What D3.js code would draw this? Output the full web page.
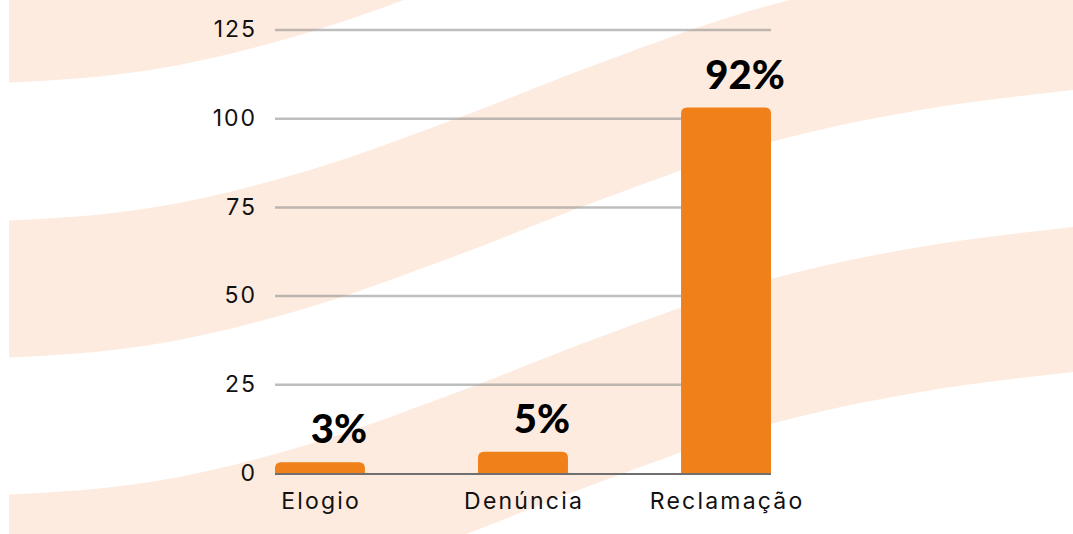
<!DOCTYPE html>
<html>
<head>
<meta charset="utf-8">
<script src="https://cdn.jsdelivr.net/npm/d3@7"></script>
<style>
  html, body { margin: 0; padding: 0; background: #ffffff; }
  svg { display: block; }
</style>
</head>
<body>
<svg id="chart" width="1073" height="534"></svg>
<script>
// ---- data ----
const categories = ["Elogio", "Denúncia", "Reclamação"];
const values = [3, 6, 103];
const percentLabels = ["3%", "5%", "92%"];
const yTicks = [0, 25, 50, 75, 100, 125];

// ---- decorative wave background (shape of one edge, band offsets) ----
const waveEdge = [[0, 358], [150, 345], [300, 310], [450, 258], [600, 200], [767, 143], [920, 110], [1073, 90]];
const bandOffsets = [[-412, -275], [-137, 0], [137, 282]];

const W = 1073, H = 534;
const margin = { left: 275, right: 1073 - 771, top: 29.5, bottom: 534 - 473 };

const svg = d3.select("#chart");

// background
svg.append("defs").append("clipPath").attr("id", "bgclip")
  .append("rect").attr("x", 9).attr("y", 0).attr("width", W - 9).attr("height", H);

const bg = svg.append("g").attr("clip-path", "url(#bgclip)");
bandOffsets.forEach(([a, b]) => {
  const area = d3.area()
    .x(d => d[0])
    .y0(d => d[1] + a)
    .y1(d => d[1] + b)
    .curve(d3.curveMonotoneX);
  bg.append("path").attr("d", area(waveEdge)).attr("fill", "#FDEBDF");
});

// scales
const x = d3.scaleBand()
  .domain(categories)
  .range([margin.left, W - margin.right])
  .paddingInner(0.557)
  .paddingOuter(0);

const y = d3.scaleLinear()
  .domain([0, 125])
  .range([H - margin.bottom, margin.top]);

const plotW = (W - margin.right) - margin.left;

// gridlines + tick labels
const yAxis = d3.axisLeft(y)
  .tickValues(yTicks)
  .tickSize(-plotW)
  .tickPadding(20)
  .tickFormat(d3.format("d"));

const gAxis = svg.append("g")
  .attr("transform", `translate(${margin.left},0)`)
  .call(yAxis);
gAxis.select(".domain").remove();
gAxis.selectAll(".tick line")
  .attr("stroke", "#888")
  .attr("stroke-opacity", 0.55)
  .attr("stroke-width", 2.5)
  .filter(d => d === 0).remove();
gAxis.selectAll(".tick text")
  .attr("fill", "#111")
  .attr("dx", 2)
  .style("font-family", "Inter, 'Noto Sans', sans-serif")
  .style("font-size", "23px")
  .style("letter-spacing", "2px");

// bars with rounded top corners
const r = 6;
function barPath(x0, w, yTop, yBase) {
  const rr = Math.min(r, (yBase - yTop), w / 2);
  return `M${x0},${yBase}` +
    `V${yTop + rr}` +
    `Q${x0},${yTop} ${x0 + rr},${yTop}` +
    `H${x0 + w - rr}` +
    `Q${x0 + w},${yTop} ${x0 + w},${yTop + rr}` +
    `V${yBase}Z`;
}

svg.append("g").selectAll("path")
  .data(categories)
  .join("path")
  .attr("d", (c, i) => barPath(x(c), x.bandwidth(), y(values[i]), y(0)))
  .attr("fill", "#F08019");

// baseline
svg.append("line")
  .attr("x1", margin.left).attr("x2", W - margin.right)
  .attr("y1", y(0) + 1).attr("y2", y(0) + 1)
  .attr("stroke", "#6f6f6f").attr("stroke-width", 2.2);

// category labels
svg.append("g").selectAll("text")
  .data(categories)
  .join("text")
  .attr("x", c => x(c) + x.bandwidth() / 2 + 1.1)
  .attr("y", 509)
  .attr("text-anchor", "middle")
  .attr("fill", "#111")
  .style("font-family", "Inter, 'Noto Sans', sans-serif")
  .style("font-size", "23px")
  .style("letter-spacing", "2.2px")
  .text(c => c);

// percent labels
svg.append("g").selectAll("text")
  .data(categories)
  .join("text")
  .attr("x", c => x(c) + x.bandwidth() / 2 + 19)
  .attr("y", (c, i) => y(values[i]) - 19)
  .attr("text-anchor", "middle")
  .attr("fill", "#000")
  .style("font-family", "Lato, sans-serif")
  .style("font-weight", 900)
  .style("font-size", "40px")
  .text((c, i) => percentLabels[i]);
</script>
</body>
</html>
